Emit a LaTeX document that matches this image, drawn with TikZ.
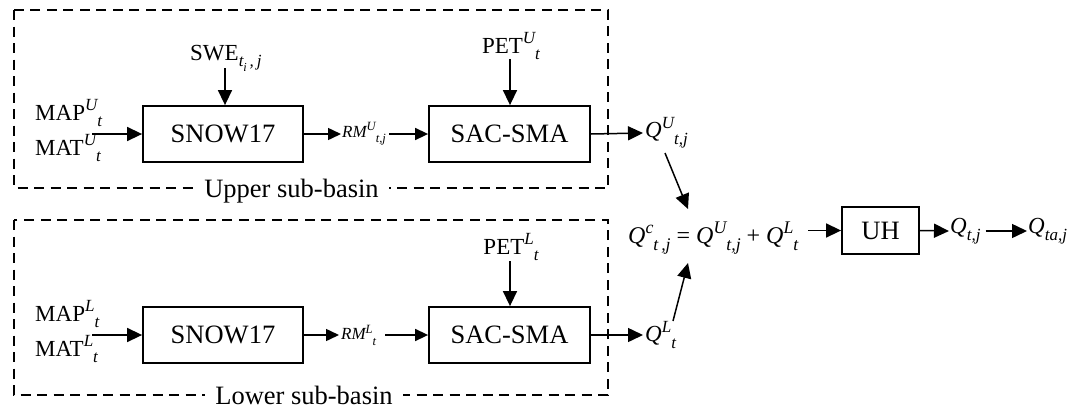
\documentclass[tikz,border=0pt]{standalone}
\usepackage{fontspec}
\setmainfont{Liberation Serif}
\usetikzlibrary{arrows.meta}
\newcommand\hsup[1]{\raisebox{0.4em}{\scalebox{0.74}{\itshape #1}}}
\newcommand\hsub[1]{\raisebox{-0.3em}{\scalebox{0.74}{\itshape #1}}}
\newcommand\hsubsub[1]{\raisebox{-0.25em}{\scalebox{0.72}{\itshape #1}}}
\begin{document}
\begin{tikzpicture}[x=1pt,y=-1pt,
  model/.style={draw,line width=1.8pt,minimum width=#1,minimum height=56pt,inner sep=0pt,font=\fontsize{26.5}{30}\selectfont},
  model/.default=160pt,
  lbl/.style={inner sep=0pt,font=\fontsize{23}{27}\selectfont},
  small/.style={inner sep=0pt,font=\fontsize{17}{19}\selectfont\itshape},
  arr/.style={line width=1.5pt,-{Triangle[length=15pt,width=14pt]}},
  sarr/.style={line width=1.5pt,-{Triangle[length=13pt,width=12pt]}},
  basin/.style={draw,dash pattern=on 10pt off 6.5pt,line width=2pt},
  blabel/.style={fill=white,inner xsep=10pt,inner ysep=1pt,font=\fontsize{26.5}{30}\selectfont}]
\useasboundingbox (0,0) rectangle (1069,408);

% sub-basin frames
\draw[basin] (14,10) rectangle (608,188);
\node[blabel] (upl) at (291.5,191) {Upper sub-basin};
\draw[basin] (14,220) rectangle (608,395);
\node[blabel,anchor=base] (lowl) at (304,404) {Lower sub-basin};

% upper models
\node[model] (snowU) at (223,134) {SNOW17};
\node[model=161pt] (sacU) at (509.5,134) {SAC-SMA};
% lower models
\node[model] (snowL) at (223,335) {SNOW17};
\node[model=161pt] (sacL) at (509.5,335) {SAC-SMA};

% inputs upper
\node[lbl,anchor=base west] (mapU) at (35,120) {MAP\hsup{U}\hsub{t}};
\node[lbl,anchor=base west] (matU) at (35,155) {MAT\hsup{U}\hsub{t}};
\coordinate (inU) at (92,134);
\draw[arr] (inU) -- (snowU.west);
\node[lbl,anchor=base west] (sweU) at (190,60) {SWE\hsub{t\hsubsub{i}\,,\,j}};
\coordinate (sweA) at (225,68);
\draw[arr] (sweA) -- (sweA |- snowU.north);
\node[lbl,anchor=base] (petU) at (511,53) {PET\hsup{U}\hsub{t}};
\coordinate (petUA) at (510,59);
\draw[arr] (petUA) -- (petUA |- sacU.north);

% RM upper
\node[small,anchor=west] (rmU) at (342,134) {RM\hsup{U}\hsub{t,j}};
\draw[sarr] (snowU.east) -- ([xshift=-1pt]rmU.west);
\draw[sarr] ([xshift=3pt]rmU.east) -- (sacU.west);

% inputs lower
\node[lbl,anchor=base west] (mapL) at (35,321) {MAP\hsup{L}\hsub{t}};
\node[lbl,anchor=base west] (matL) at (35,356) {MAT\hsup{L}\hsub{t}};
\coordinate (inL) at (92,335);
\draw[arr] (inL) -- (snowL.west);
\node[lbl,anchor=base] (petL) at (511,254) {PET\hsup{L}\hsub{t}};
\coordinate (petLA) at (510,261);
\draw[arr] (petLA) -- (petLA |- sacL.north);

% RM lower
\node[small,anchor=west] (rmL) at (341,335) {RM\hsup{L}\hsub{t}};
\draw[sarr] (snowL.east) -- ([xshift=-2pt]rmL.west);
\draw[sarr] ([xshift=9pt]rmL.east) -- (sacL.west);

% outputs
\node[lbl,anchor=west] (qU) at (645,133) {\itshape Q\hsup{U}\hsub{t,j}};
\draw[arr] (sacU.east) -- ([xshift=-2pt]qU.west);
\node[lbl,anchor=west] (qL) at (645,335) {\itshape Q\hsup{L}\hsub{t}};
\draw[arr] (sacL.east) -- ([xshift=-2pt]qL.west);

% combined flow
\node[lbl,anchor=base west,inner xsep=0pt,font=\fontsize{24}{28}\selectfont] (eq) at (628,243)
  {\itshape Q\hsup{c}\hsub{t\,,j}\upshape{} = \itshape Q\hsup{U}\hsub{t,j}\upshape{} + \itshape Q\hsup{L}\hsub{t}};
\coordinate (uS) at (665,153);
\coordinate (uE) at (688,209);
\coordinate (lS) at (673,321);
\coordinate (lE) at (688,263);
\draw[arr] (uS) -- (uE);
\draw[arr] (lS) -- (lE);

\node[model=77pt,minimum height=47pt] (uh) at (880.5,230.5) {UH};
\coordinate (eqA) at (808,230.5);
\draw[arr] (eqA) -- (uh.west);
\node[lbl,anchor=west] (qt) at (950,231) {\itshape Q\hsub{t,j}};
\draw[arr] (uh.east) -- ([xshift=-1pt]qt.west);
\node[lbl,anchor=west] (qta) at (1028,231) {\itshape Q\hsub{ta,j}};
\draw[arr] ([xshift=5pt]qt.east) -- ([xshift=-1pt]qta.west);
\end{tikzpicture}
\end{document}
